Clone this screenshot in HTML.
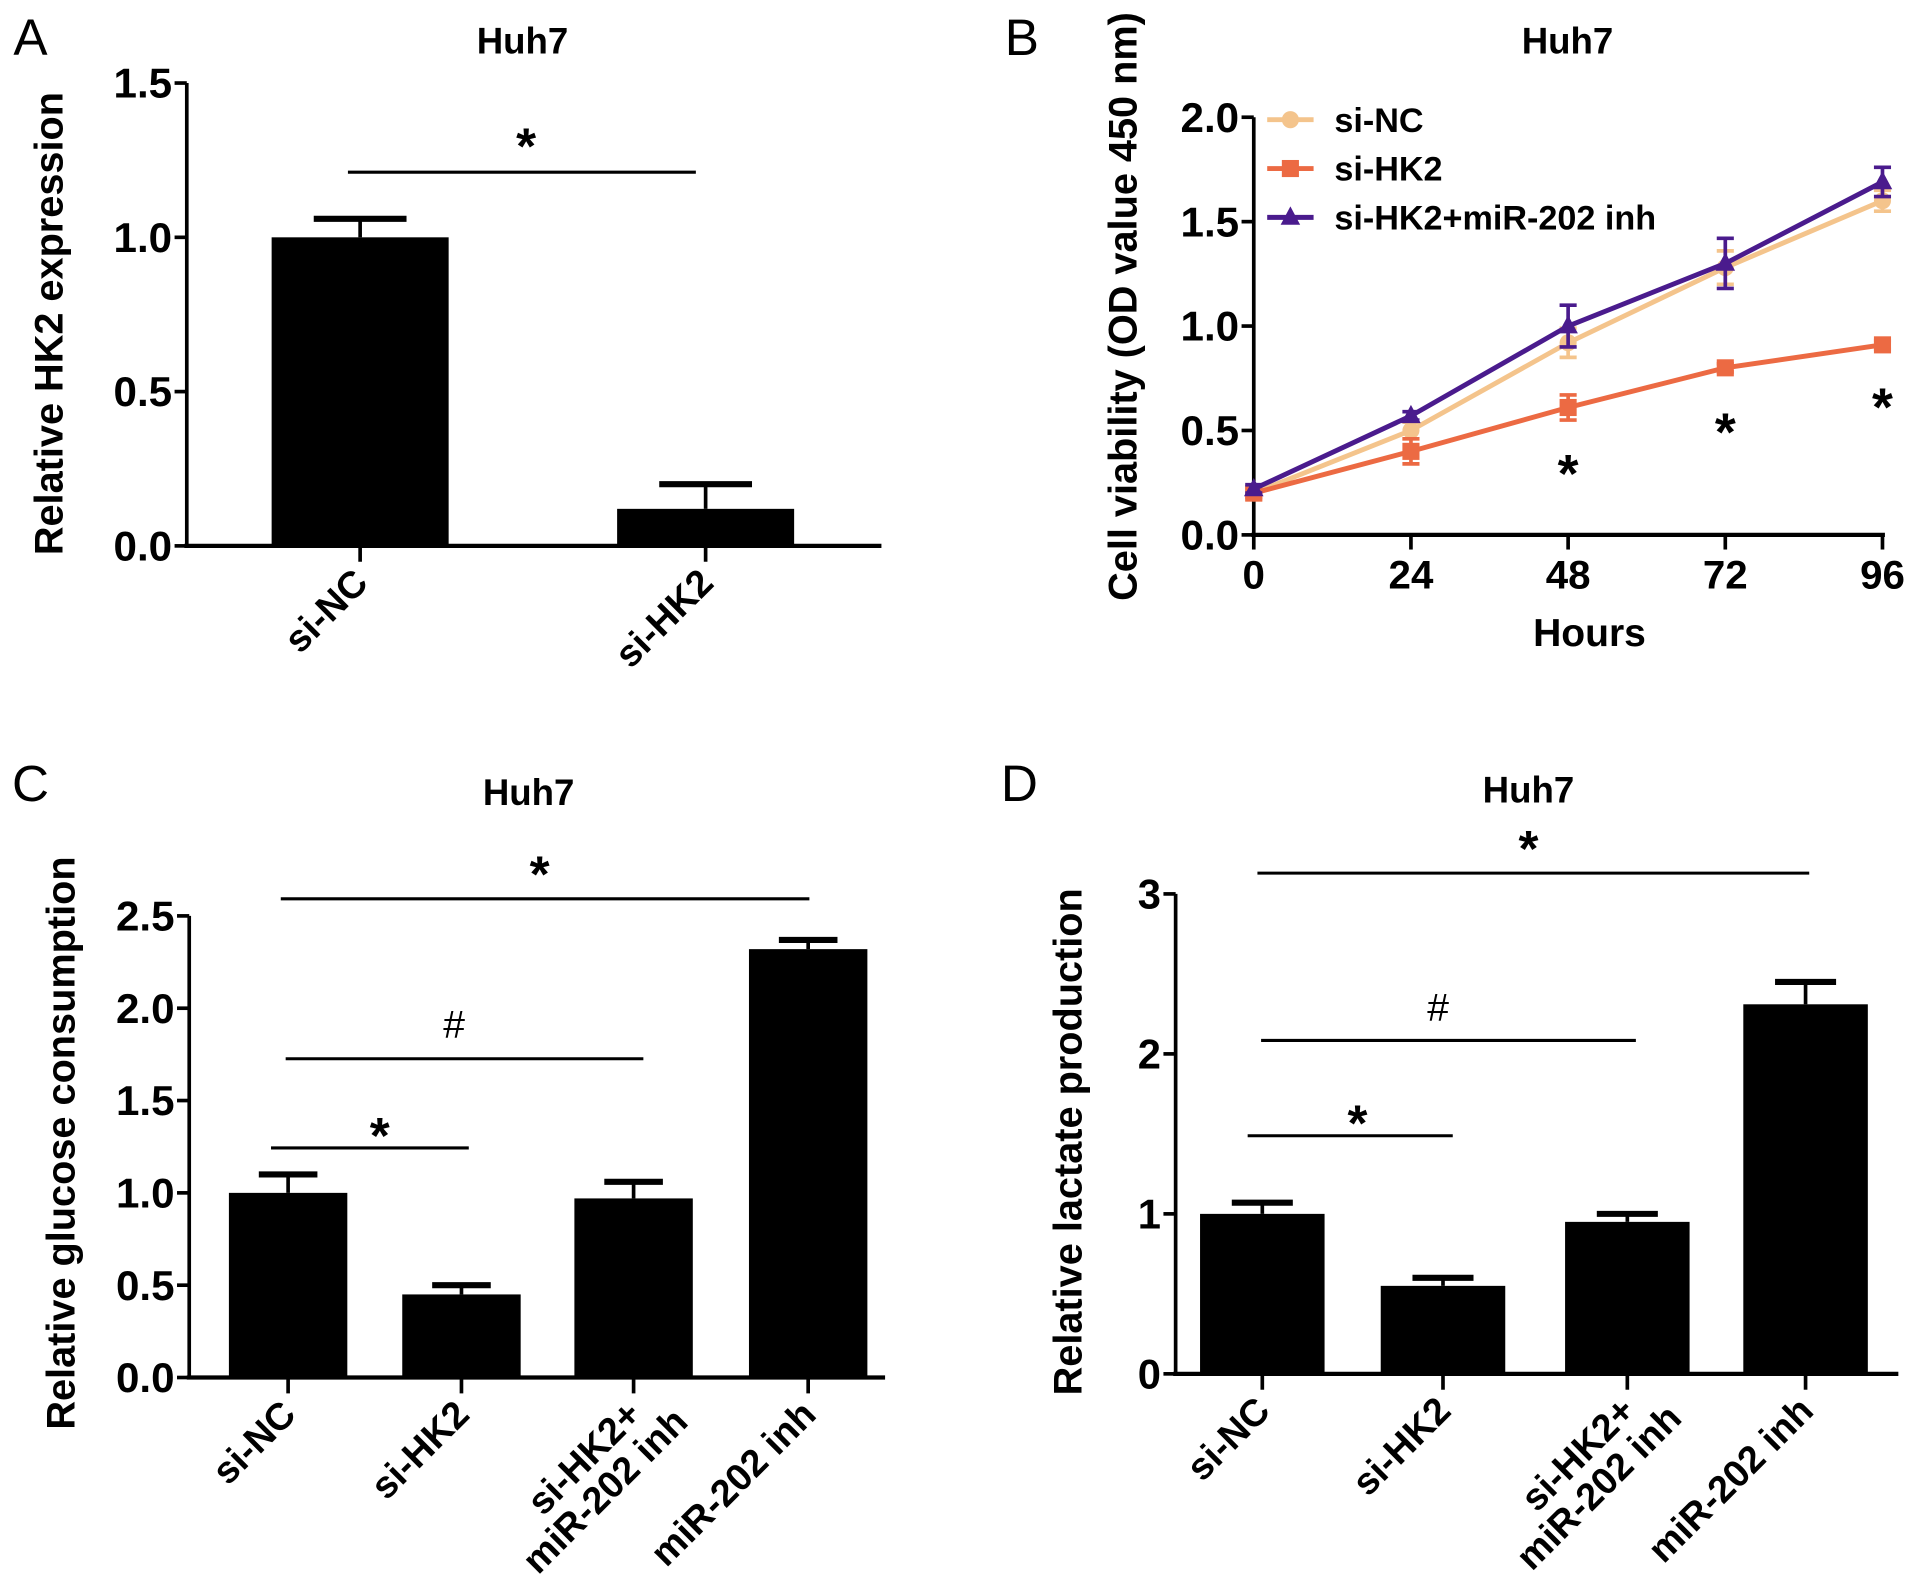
<!DOCTYPE html>
<html><head><meta charset="utf-8"><style>
html,body{margin:0;padding:0;background:#fff}
svg{display:block}
text{font-family:"Liberation Sans",sans-serif;font-weight:bold;fill:#000}
text.light{font-weight:normal}
</style></head><body>
<svg id="fig" width="1913" height="1590" viewBox="0 0 1567 1302" preserveAspectRatio="none" xmlns="http://www.w3.org/2000/svg"></svg>
<script>
// Panel A data
const aCats = ["si-NC","si-HK2"];
const aVals = [1.0, 0.12];
const aErr = [0.06, 0.08];
const aTicks = ["0.0","0.5","1.0","1.5"];
// Panel B data
const bHours = [0,24,48,72,96];
const bNC = [0.2,0.5,0.92,1.28,1.6];
const bNCErr = [0.03,0.04,0.07,0.08,0.05];
const bHK2 = [0.2,0.4,0.61,0.8,0.91];
const bHK2Err = [0.02,0.06,0.06,0.02,0.02];
const bInh = [0.22,0.57,1.0,1.3,1.69];
const bInhErr = [0.02,0.02,0.1,0.12,0.07];
const bYTicks = ["0.0","0.5","1.0","1.5","2.0"];
const bStars = [[48,0.38],[72,0.58],[96,0.7]];
// Panel C data
const cCats = [["si-NC"],["si-HK2"],["si-HK2+","miR-202 inh"],["miR-202 inh"]];
const cVals = [1.0,0.45,0.97,2.32];
const cErr = [0.1,0.05,0.09,0.05];
const cTicks = ["0.0","0.5","1.0","1.5","2.0","2.5"];
// Panel D data
const dVals = [1.0,0.55,0.95,2.31];
const dErr = [0.07,0.05,0.05,0.14];
const dTicks = ["0","1","2","3"];

const svg = document.getElementById('fig');
const NS = "http://www.w3.org/2000/svg";
function mk(tag, attrs, parent, txt){
  const e = document.createElementNS(NS, tag);
  for (const k in attrs) e.setAttribute(k, attrs[k]);
  if (txt !== undefined) e.textContent = txt;
  (parent||svg).appendChild(e);
  return e;
}
function grp(name){
  const g = mk('g', {});
  
  
  return g;
}
function line(g,x1,y1,x2,y2,w,c){ return mk('line',{x1,y1,x2,y2,stroke:c||'#000','stroke-width':w||3},g); }
function txt(g,x,y,s,size,anchor,extra){ const a=Object.assign({x,y,'font-size':size,'text-anchor':anchor||'middle'},extra||{}); return mk('text',a,g,s); }

function yAxis(g,x,y0,y1,ticks,xEnd){
  line(g,x,y0+1,x,y1,3);
  line(g,x-2,y0,xEnd,y0,3.5);
  ticks.forEach((t,i)=>{
    const y = y0 + (y1-y0)*i/(ticks.length-1);
    line(g,x-10,y,x,y,3);
    const tl = txt(g,x-12,y+12,t,34,'end',{'textLength':t.length>1?48:19,'lengthAdjust':'spacingAndGlyphs'});
    
    
  });
}

function barPanel(o){
  const g = grp(o.name);
  const sy = v => o.y0 - (o.y0-o.y1)*v/o.vmax;
  yAxis(g,o.ax,o.y0,o.y1,o.ticks,o.xEnd);
  o.vals.forEach((v,i)=>{
    const cx = o.centers[i];
    const r = mk('rect',{x:cx-o.bw/2,y:sy(v),width:o.bw,height:o.y0-sy(v),fill:'#000'},g);
    
    
    const e = line(g,cx,sy(v),cx,sy(v+o.err[i]),3);
    
    
    line(g,cx-o.cap,sy(v+o.err[i]),cx+o.cap,sy(v+o.err[i]),5);
    line(g,cx,o.y0,cx,o.y0+13,3);
    o.cats[i].forEach((s,j)=>{
      const lx = cx + 8 + j*38, ly = o.y0 + 32 + j*6;
      const t = txt(g,lx,ly,s,31,'end',{transform:`rotate(-45 ${lx} ${ly})`});
      
      
    });
  });
  o.sig.forEach(s=>{
    const l = line(g,s[0],s[2],s[1],s[2],2.5);
    
    
    txt(g,s[3],s[4],s[5],s[5]==='#'?32:42,'middle',s[5]==='#'?{'class':'light'}:{});
  });
  txt(g,o.title[0],o.title[1],'Huh7',30,'middle');
  txt(g,o.letter[0],o.letter[1],o.letter[2],42,'middle',{'class':'light'});
  txt(g,0,0,o.ylab,32.5,'middle',{transform:`translate(${o.ylabPos[0]} ${o.ylabPos[1]}) rotate(-90)`});
}

barPanel({name:'panel-a',ax:153,y0:447,y1:68,vmax:1.5,xEnd:722,ticks:aTicks,vals:aVals,err:aErr,
  centers:[295,578],bw:145,cap:38,cats:aCats.map(c=>[c]),
  sig:[[285,570,141,431,134,'*']],title:[428,44],letter:[25,45,'A'],ylab:'Relative HK2 expression',ylabPos:[51,265]});
barPanel({name:'panel-c',ax:155,y0:1128,y1:750,vmax:2.5,xEnd:725,ticks:cTicks,vals:cVals,err:cErr,
  centers:[236,378,519,662],bw:97,cap:24,cats:cCats,
  sig:[[222,384,940,311,944,'*'],[234,527,867,372,850,'#'],[230,663,736,442,730,'*']],
  title:[433,659],letter:[25,656,'C'],ylab:'Relative glucose consumption',ylabPos:[61,936]});
barPanel({name:'panel-d',ax:963,y0:1125,y1:732,vmax:3,xEnd:1555,ticks:dTicks,vals:dVals,err:dErr,
  centers:[1034,1182,1333,1479],bw:102,cap:25,cats:cCats,
  sig:[[1022,1190,930,1112,934,'*'],[1033,1340,852,1178,836,'#'],[1030,1482,715,1252,709,'*']],
  title:[1252,657],letter:[835,656,'D'],ylab:'Relative lactate production',ylabPos:[886,935]});

// Panel B
(function(){
  const g = grp('panel-b');
  const ax=1027, y0=438, y1=96, x96=1542;
  const sx = h => ax + (x96-ax)*h/96;
  const sy = v => y0 - (y0-y1)*v/2;
  line(g,ax,y0+1,ax,y1,3);
  line(g,ax-2,y0,x96+2,y0,3.5);
  bYTicks.forEach((t,i)=>{
    const y = y0 + (y1-y0)*i/(bYTicks.length-1);
    line(g,ax-10,y,ax,y,3);
    txt(g,ax-12,y+12,t,34,'end',{'textLength':48,'lengthAdjust':'spacingAndGlyphs'});
  });
  bHours.forEach(h=>{
    line(g,sx(h),y0,sx(h),y0+12,3);
    const t = txt(g,sx(h),y0+44,String(h),33,'middle');
    
    
  });
  const series = [
    {name:'si-NC',vals:bNC,err:bNCErr,color:'#f4c48c',mark:'circle'},
    {name:'si-HK2',vals:bHK2,err:bHK2Err,color:'#ec6a43',mark:'square'},
    {name:'si-HK2+miR-202 inh',vals:bInh,err:bInhErr,color:'#4a1b8d',mark:'tri'}
  ];
  function marker(gg,m,x,y,c){
    if(m==='circle') mk('circle',{cx:x,cy:y,r:7,fill:c},gg);
    else if(m==='square') mk('rect',{x:x-7,y:y-7,width:14,height:14,fill:c},gg);
    else mk('polygon',{points:`${x},${y-9} ${x-8},${y+6} ${x+8},${y+6}`,fill:c},gg);
  }
  series.forEach((s,k)=>{
    const sg = mk('g',{},g);
    
    
    const pts = bHours.map((h,i)=>sx(h)+','+sy(s.vals[i])).join(' ');
    mk('polyline',{points:pts,fill:'none',stroke:s.color,'stroke-width':4},sg);
    bHours.forEach((h,i)=>{
      const x=sx(h), v=s.vals[i], e=s.err[i];
      line(sg,x,sy(v-e),x,sy(v+e),3,s.color);
      line(sg,x-7,sy(v-e),x+7,sy(v-e),3,s.color);
      line(sg,x-7,sy(v+e),x+7,sy(v+e),3,s.color);
      marker(sg,s.mark,x,sy(v),s.color);
    });
    const lg = mk('g',{},g);
    
    
    const ly = 98 + k*40;
    line(lg,1038,ly,1076,ly,4,s.color);
    marker(lg,s.mark,1057,ly,s.color);
    txt(lg,1093,ly+10,s.name,28,'start');
  });
  bStars.forEach(s=>{ txt(g,sx(s[0]),sy(s[1])+30,'*',44,'middle'); });
  txt(g,1284,44,'Huh7',30,'middle');
  txt(g,837,45,'B',42,'middle',{'class':'light'});
  txt(g,1302,529,'Hours',32,'middle');
  txt(g,0,0,'Cell viability (OD value 450 nm)',32.5,'middle',{transform:'translate(931 251) rotate(-90)'});
})();
</script>
</body></html>
